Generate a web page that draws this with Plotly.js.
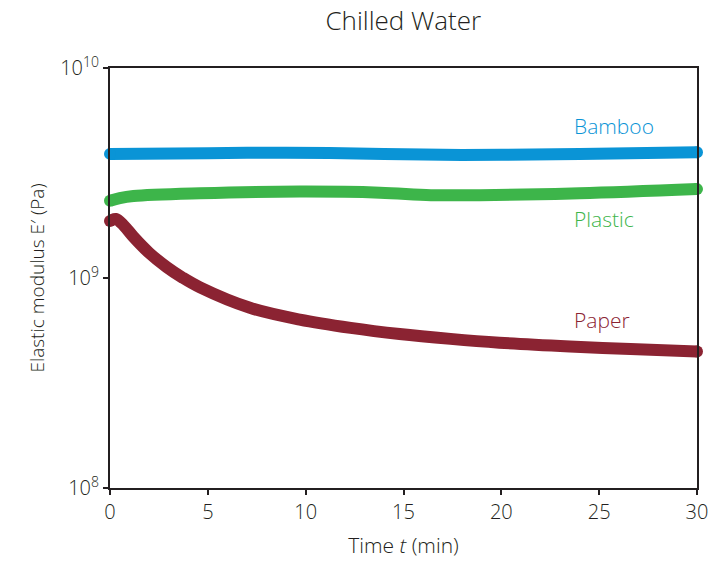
<!DOCTYPE html>
<html>
<head>
<meta charset="utf-8">
<script src="https://cdn.plot.ly/plotly-3.0.1.min.js"></script>
<style>html,body{margin:0;padding:0;background:#fff;}#chart{width:710px;height:562px;}</style>
</head>
<body>
<div id="chart"></div>
<script>
// Time (min) and elastic modulus E' (Pa)
const bambooT = [0, 5, 9, 14, 17, 20, 24, 30];
const bambooE = [3.90e9, 3.93e9, 3.95e9, 3.90e9, 3.86e9, 3.86e9, 3.89e9, 3.97e9];

const plasticT = [0, 0.5, 1.2, 4.6, 9.7, 13.8, 16.4, 18.9, 24, 30];
const plasticE = [2.33e9, 2.40e9, 2.455e9, 2.53e9, 2.58e9, 2.55e9, 2.48e9, 2.48e9, 2.53e9, 2.65e9];

const paperT = [0, 0.3, 0.7, 1.2, 2.0, 2.9, 3.7, 4.6, 7.15, 9.7, 12.3, 14.8, 17.4, 19.9, 23.5, 26.6, 30];
const paperE = [1.87e9, 1.91e9, 1.78e9, 1.57e9, 1.318e9, 1.127e9, 1.005e9, 9.02e8, 7.21e8, 6.34e8, 5.79e8, 5.41e8, 5.13e8, 4.92e8, 4.72e8, 4.59e8, 4.47e8];

const seriesNames = ['Bamboo', 'Plastic', 'Paper'];
const seriesColors = ['#0a94d6', '#3db54a', '#8b2332'];
const labelX = [23.6, 23.6, 23.6];
const labelE = [5.28e9, 1.92e9, 6.3e8];

const yTickVals = [1e8, 1e9, 1e10];
const yTickText = ['10<sup>8</sup>', '10<sup>9</sup>', '10<sup>10</sup>'];
const xTickVals = [0, 5, 10, 15, 20, 25, 30];

const FAM = '"Open Sans", "DejaVu Sans", sans-serif';
const INK = '#231f20';

const data = [[bambooT, bambooE], [plasticT, plasticE], [paperT, paperE]];
const traces = [];
data.forEach((d, i) => {
  traces.push({
    x: d[0], y: d[1], type: 'scatter', mode: 'lines',
    line: {color: seriesColors[i], width: 12, shape: 'spline', smoothing: 1},
    name: seriesNames[i], showlegend: false, hoverinfo: 'skip'
  });
  traces.push({
    x: [d[0][0], d[0][d[0].length - 1]], y: [d[1][0], d[1][d[1].length - 1]],
    type: 'scatter', mode: 'markers', cliponaxis: false,
    marker: {color: seriesColors[i], size: 12, line: {width: 0}},
    showlegend: false, hoverinfo: 'skip'
  });
});

const annotations = seriesNames.map((n, i) => ({
  x: labelX[i], y: Math.log10(labelE[i]), xref: 'x', yref: 'y',
  text: n, showarrow: false, xanchor: 'left', yanchor: 'middle',
  font: {family: FAM, size: 21, weight: 300, color: seriesColors[i]}
}));

const tickFont = {family: FAM, size: 20, weight: 300, color: INK};

const layout = {
  width: 710, height: 562,
  margin: {l: 110, r: 13, t: 68, b: 74},
  paper_bgcolor: '#fff', plot_bgcolor: '#fff',
  title: {text: 'Chilled Water', x: 0.568, xanchor: 'center', y: 0.963, yanchor: 'middle',
          font: {family: FAM, size: 26, weight: 300, color: INK}},
  xaxis: {
    range: [0, 30], tickvals: xTickVals, ticks: 'outside', ticklen: 5, tickwidth: 2, tickcolor: INK,
    showline: true, linecolor: INK, linewidth: 2, mirror: true, showgrid: false, zeroline: false,
    tickfont: tickFont,
    title: {text: 'Time <i>t</i> (min)', font: {family: FAM, size: 21, weight: 300, color: INK}, standoff: 14}
  },
  yaxis: {
    type: 'log', range: [8, 10], tickvals: yTickVals, ticktext: yTickText,
    ticks: 'outside', ticklen: 5, tickwidth: 2, tickcolor: INK,
    showline: true, linecolor: INK, linewidth: 2, mirror: true, showgrid: false, zeroline: false,
    tickfont: tickFont,
    title: {text: 'Elastic modulus E′ (Pa)', font: {family: FAM, size: 19, weight: 300, color: INK}, standoff: 11}
  },
  annotations: annotations
};

Plotly.newPlot('chart', traces, layout, {displayModeBar: false, staticPlot: true});
</script>
</body>
</html>
